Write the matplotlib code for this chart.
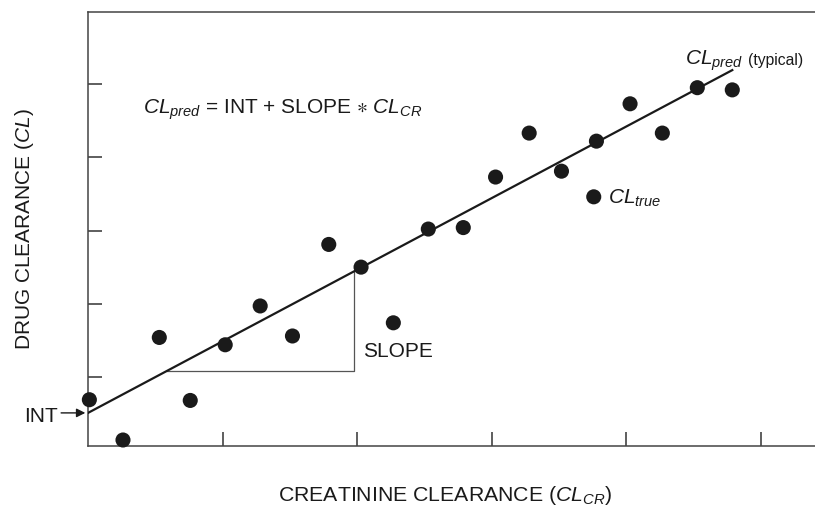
import matplotlib
matplotlib.use('Agg')
import matplotlib.pyplot as plt
import numpy as np

plt.rcParams['font.family'] = ['Liberation Sans', 'DejaVu Sans']
plt.rcParams['mathtext.fontset'] = 'custom'
plt.rcParams['mathtext.rm'] = 'Liberation Sans'
plt.rcParams['mathtext.it'] = 'Liberation Sans:italic'
plt.rcParams['mathtext.fallback'] = 'stixsans'

cl_cr = [0.01, 0.26, 0.53, 0.76, 1.02, 1.28, 1.52, 1.79, 2.03, 2.27, 2.53,
         2.79, 3.03, 3.28, 3.52, 3.76, 3.78, 4.03, 4.27, 4.53, 4.79]
cl_obs = [0.69, 0.14, 1.54, 0.68, 1.44, 1.97, 1.56, 2.81, 2.50, 1.74, 3.02,
          3.04, 3.73, 4.33, 3.81, 3.46, 4.22, 4.73, 4.33, 4.95, 4.92]

# typical regression line
intercept = 0.51
slope = 0.977
line_x = [0.0, 4.79]

# slope triangle corners
tri_x = [0.59, 1.98]

x_ticks = [1, 2, 3, 4, 5]
y_ticks = [1, 2, 3, 4, 5]

ink = '#1a1a1a'
fs = 15

fig = plt.figure(figsize=(8.15, 5.07), dpi=100)
ax = fig.add_axes([0.108, 0.1203, 0.892, 0.8560])

ax.set_xlim(0, 5.405)
ax.set_ylim(0.058, 5.983)

lx = np.array(line_x)
ax.plot(lx, intercept + slope * lx, color=ink, linewidth=1.6, zorder=3)

ty0 = intercept + slope * tri_x[0]
ty1 = intercept + slope * tri_x[1]
ax.plot([tri_x[0], tri_x[1], tri_x[1]], [ty0, ty0, ty1], color='#555555', linewidth=0.9, zorder=2)

ax.scatter(cl_cr, cl_obs, s=118, color=ink, edgecolors='none', zorder=4, clip_on=False)

ax.set_xticks(x_ticks)
ax.set_yticks(y_ticks)
ax.set_xticklabels([])
ax.set_yticklabels([])
ax.tick_params(direction='in', length=10, width=1.1, color='#333333')
for side in ['left', 'bottom', 'top']:
    ax.spines[side].set_color('#444444')
    ax.spines[side].set_linewidth(1.1)
ax.spines['right'].set_visible(False)

ax.text(0.407, 4.60, r'$CL_{pred}$ = INT + SLOPE $\ast$ $CL_{CR}$', fontsize=fs, color=ink, va='baseline')
ax.text(4.439, 5.26, r'$CL_{pred}$', fontsize=fs, color=ink, va='baseline')
ax.text(4.907, 5.26, '(typical)', fontsize=11.3, color=ink, va='baseline')
ax.text(3.866, 3.36, r'$CL_{true}$', fontsize=fs, color=ink, va='baseline')
ax.text(2.045, 1.27, 'SLOPE', fontsize=fs, color=ink, va='baseline')

ax.text(-0.476, 0.39, 'INT', fontsize=fs, color=ink, va='baseline', clip_on=False)
ax.annotate('', xy=(-0.02, intercept), xytext=(-0.2, intercept),
            arrowprops=dict(arrowstyle='-|>', color=ink, lw=1.0, mutation_scale=13,
                            shrinkA=0, shrinkB=0),
            annotation_clip=False)

fig.text(0.546, 0.012, r'CREATININE CLEARANCE ($CL_{CR}$)', fontsize=15.3, color=ink, ha='center', va='baseline')
fig.text(0.03, 0.548, r'DRUG CLEARANCE ($CL$)', fontsize=fs, color=ink, rotation=90, ha='center', va='center')

fig.savefig('out.png', dpi=100)
